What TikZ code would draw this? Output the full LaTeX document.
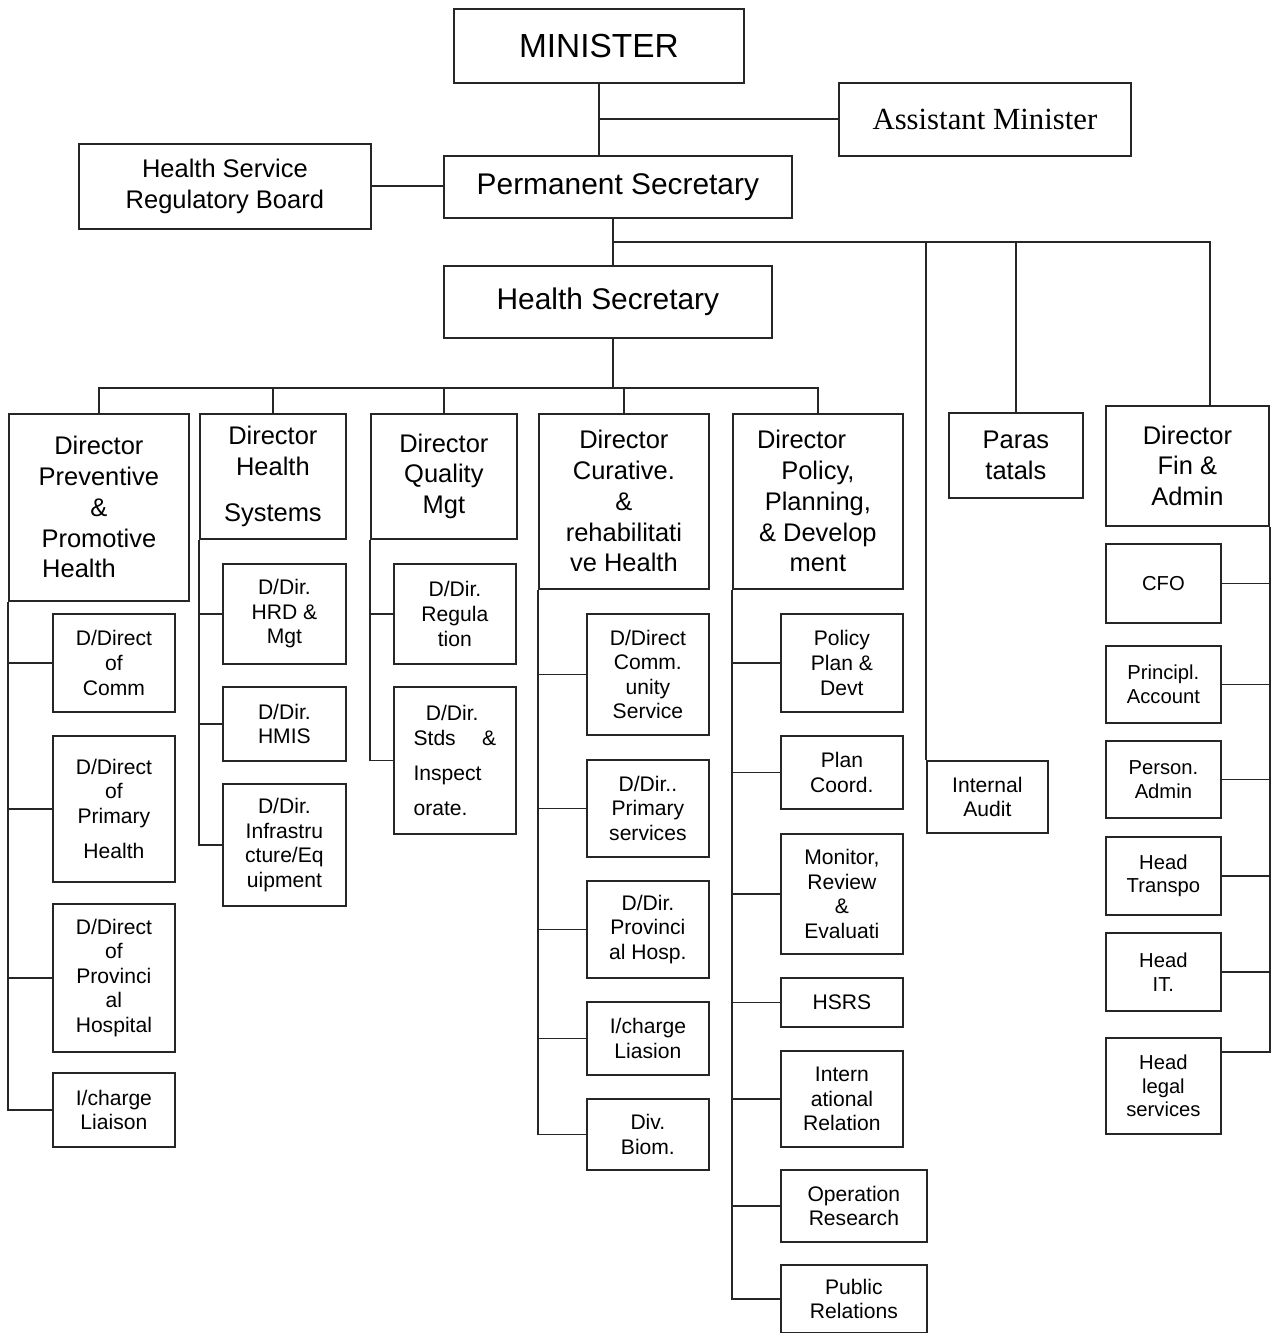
\documentclass[tikz,border=0pt]{standalone}
\usepackage{fontspec}
\setmainfont{Liberation Sans}
\newfontfamily\timesfont{Liberation Serif}
\usepackage{tikz}

\begin{document}
\begin{tikzpicture}[x=0.2mm, y=-0.2mm,
  box/.style={draw=black!85, line width=1pt, anchor=north west, align=center, inner sep=0pt},
  sz/.style 2 args={minimum width=#1*0.2mm, minimum height=#2*0.2mm},
  topbox/.style={box, font=\fontsize{17}{20}\selectfont},
  dirbox/.style={box, font=\fontsize{14.5}{17.5}\selectfont},
  subbox/.style={box, font=\fontsize{12}{14}\selectfont},
  finbox/.style={box, font=\fontsize{11.5}{13.5}\selectfont},
  link/.style={draw=black!85, line width=1pt}]
  \useasboundingbox (0,0) rectangle (1276,1333);
  \fill[white] (0,0) rectangle (1276,1333);

  \node[topbox, sz={290}{74}, font=\fontsize{19}{22}\selectfont] (min) at (453,8) {MINISTER};
  \node[topbox, sz={292}{73}, font=\timesfont\fontsize{17.5}{20}\selectfont] (asst) at (838,82) {Assistant Minister};
  \node[dirbox, sz={292}{85}] (hsrb) at (78,143) {Health Service\\Regulatory Board};
  \node[topbox, sz={348}{62}] (ps) at (443,155) {Permanent Secretary};
  \node[topbox, sz={328}{72}] (hs) at (443,265) {Health Secretary};

  \node[dirbox, sz={180}{187}] (prev) at (8,413) {Director\\Preventive\\\&\\Promotive\\Health\hphantom{tive}};
  \node[dirbox, sz={146}{125}] (hsys) at (199,413) {Director\\Health\\[9pt]Systems};
  \node[dirbox, sz={146}{125}] (qual) at (370,413) {Director\\Quality\\Mgt};
  \node[dirbox, sz={170}{175}] (cur) at (538,413) {Director\\Curative.\\\&\\rehabilitati\\ve Health};
  \node[dirbox, sz={170}{175}] (pol) at (732,413) {Director\hphantom{Dir}\\Policy,\\Planning,\\\& Develop\\ment};
  \node[dirbox, sz={134}{85}] (para) at (948,412) {Paras\\tatals};
  \node[dirbox, sz={163}{120}] (fin) at (1105,405) {Director\\Fin \&\\Admin};

  \node[subbox, sz={122}{98}] (comm) at (52,613) {D/Direct\\of\\Comm};
  \node[subbox, sz={122}{146}] (prim) at (52,735) {D/Direct\\of\\Primary\\[6pt]Health};
  \node[subbox, sz={122}{148}] (provh) at (52,903) {D/Direct\\of\\Provinci\\al\\Hospital};
  \node[subbox, sz={122}{74}] (liai) at (52,1072) {I/charge\\Liaison};

  \node[subbox, sz={123}{100}] (hrd) at (222,563) {D/Dir.\\HRD \&\\Mgt};
  \node[subbox, sz={123}{74}] (hmis) at (222,686) {D/Dir.\\HMIS};
  \node[subbox, sz={123}{122}] (infra) at (222,783) {D/Dir.\\Infrastru\\cture/Eq\\uipment};

  \node[subbox, sz={122}{100}] (regu) at (393,563) {D/Dir.\\Regula\\tion};
  \node[subbox, sz={122}{147}, align=left] (stds) at (393,686) {\hspace*{7pt}D/Dir.\\Stds\hspace{15pt}\&\\[6pt]Inspect\\[6pt]orate.};

  \node[subbox, sz={122}{121}] (comsv) at (586,613) {D/Direct\\Comm.\\unity\\Service};
  \node[subbox, sz={122}{97}] (prims) at (586,759) {D/Dir..\\Primary\\services};
  \node[subbox, sz={122}{97}] (provhs) at (586,880) {D/Dir.\\Provinci\\al Hosp.};
  \node[subbox, sz={122}{73}] (liasion) at (586,1001) {I/charge\\Liasion};
  \node[subbox, sz={122}{71}] (biom) at (586,1098) {Div.\\Biom.};

  \node[subbox, sz={122}{98}] (ppd) at (780,613) {Policy\\Plan \&\\Devt};
  \node[subbox, sz={122}{73}] (coord) at (780,735) {Plan\\Coord.};
  \node[subbox, sz={122}{120}] (mon) at (780,833) {Monitor,\\Review\\\&\\Evaluati};
  \node[subbox, sz={122}{49}] (hsrs) at (780,977) {HSRS};
  \node[subbox, sz={122}{96}] (intl) at (780,1050) {Intern\\ational\\Relation};
  \node[subbox, sz={146}{72}] (oper) at (780,1169) {Operation\\Research};
  \node[subbox, sz={146}{68}] (pub) at (780,1264) {Public\\Relations};

  \node[subbox, sz={121}{72}] (audit) at (926,760) {Internal\\Audit};

  \foreach \n/\y/\h/\t in {cfo/543/79/CFO, acc/645/77/{Principl.\\Account}, pers/740/77/{Person.\\Admin}, trans/836/78/{Head\\Transpo}, it/932/78/{Head\\IT.}}
    \node[finbox, sz={115}{\h}] (\n) at (1105,\y) {\t};
  \node[finbox, sz={115}{96}] (legal) at (1105,1037) {Head\\legal\\services};

  \coordinate (j1) at (613,242);
  \coordinate (j2) at (613,388);
  \coordinate (j3) at (1210,242);

  \draw[link] (min.south) -- (min.south |- ps.north);
  \draw[link] (min.south |- asst.west) -- (asst.west);
  \draw[link] (hsrb.east) -- (hsrb.east -| ps.west);
  \draw[link] (ps.south -| j1) -- (hs.north -| j1);
  \draw[link] (j1) -- (j3) -- (j3 |- fin.north);
  \draw[link] (para.north) -- (para.north |- j1);
  \draw[link] (audit.north west) -- (audit.north west |- j1);
  \draw[link] (hs.south -| j2) -- (j2);
  \draw[link] (prev.north) |- (j2) -| (pol.north);
  \foreach \n in {hsys,qual,cur}
    \draw[link] (\n.north) -- (\n.north |- j2);

  \draw[link] (prev.south west) |- (liai.west);
  \foreach \n in {comm,prim,provh}
    \draw[link] (\n.west) -- (\n.west -| prev.south west);
  \draw[link] (hsys.south west) |- (infra.west);
  \foreach \n in {hrd,hmis}
    \draw[link] (\n.west) -- (\n.west -| hsys.south west);
  \draw[link] (qual.south west) |- (stds.west);
  \draw[link] (regu.west) -- (regu.west -| qual.south west);
  \draw[link] (cur.south west) |- (biom.west);
  \foreach \n in {comsv,prims,provhs,liasion}
    \draw[link] (\n.west) -- (\n.west -| cur.south west);
  \draw[link] (pol.south west) |- (pub.west);
  \foreach \n in {ppd,coord,mon,hsrs,intl,oper}
    \draw[link] (\n.west) -- (\n.west -| pol.south west);
  \draw[link] (fin.south east) |- (legal.30);
  \foreach \n in {cfo,acc,pers,trans,it}
    \draw[link] (\n.east) -- (\n.east -| fin.south east);
\end{tikzpicture}
\end{document}
